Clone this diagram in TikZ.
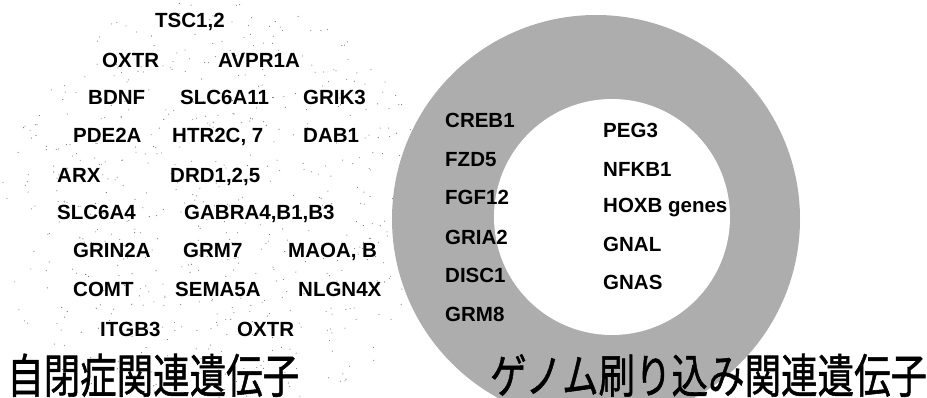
\documentclass[tikz,border=0pt]{standalone}
\usepackage{fontspec}
\setmainfont{Liberation Sans}
\newfontfamily\jpfont[FakeBold=1.2]{Noto Sans CJK JP}
\begin{document}
\begin{tikzpicture}[x=1pt,y=-1pt,
  gene/.style={anchor=base west,inner sep=0pt,font=\fontsize{20.5}{22}\selectfont\bfseries},
  title/.style={anchor=base west,inner sep=0pt,font=\fontsize{36.5}{40}\selectfont\jpfont}]
\useasboundingbox[fill=white] (0,0) rectangle (927,398);
% faint stippled disc (left)
\pgfmathsetseed{11}
\begin{scope}
\clip (0,0) rectangle (927,398);
\foreach \i in {1,...,650}{
  \pgfmathsetmacro\ang{360*rnd}
  \pgfmathsetmacro\rad{218*sqrt(rnd)}
  \fill[black!55] ({215+\rad*cos(\ang)},{215+\rad*sin(\ang)}) circle (0.55);
}
% ring (right)
\fill[black!32] (596,219) circle (204);
\fill[white] (612,217) circle (118);
\end{scope}
% autism genes
\node[gene] (tsc) at (155,28) {TSC1,2};
\node[gene] (oxtr) at (102,68) {OXTR};
\node[gene] (avpr) at (218,68) {AVPR1A};
\node[gene] (bdnf) at (88,105) {BDNF};
\node[gene] (slc11) at (180,105) {SLC6A11};
\node[gene] (grik3) at (303,105) {GRIK3};
\node[gene] (pde) at (73,143) {PDE2A};
\node[gene] (htr) at (172,143) {HTR2C, 7};
\node[gene] (dab) at (303,143) {DAB1};
\node[gene] (arx) at (57,183) {ARX};
\node[gene] (drd) at (170,183) {DRD1,2,5};
\node[gene] (slc4) at (57,220) {SLC6A4};
\node[gene] (gabra) at (184,220) {GABRA4,B1,B3};
\node[gene] (grin) at (73,258) {GRIN2A};
\node[gene] (grm7) at (183,258) {GRM7};
\node[gene] (maoa) at (288,258) {MAOA, B};
\node[gene] (comt) at (73,297) {COMT};
\node[gene] (sema) at (175,297) {SEMA5A};
\node[gene] (nlgn) at (298,297) {NLGN4X};
\node[gene] (itgb) at (100,336) {ITGB3};
\node[gene] (oxtr2) at (237,336) {OXTR};
% imprinting genes
\node[gene] (creb) at (445,128) {CREB1};
\node[gene] (fzd) at (445,167) {FZD5};
\node[gene] (fgf) at (445,205) {FGF12};
\node[gene] (gria) at (445,245) {GRIA2};
\node[gene] (disc) at (445,283) {DISC1};
\node[gene] (grm8) at (445,322) {GRM8};
\node[gene] (peg) at (603,138) {PEG3};
\node[gene] (nfkb) at (603,177) {NFKB1};
\node[gene] (hoxb) at (603,213) {HOXB genes};
\node[gene] (gnal) at (603,252) {GNAL};
\node[gene] (gnas) at (603,290) {GNAS};
% titles
\node[title] (t1) at (7,393) {\scalebox{1}[1.28]{自閉症関連遺伝子}};
\node[title] (t2) at (490,393) {\scalebox{1}[1.28]{ゲノム刷り込み関連遺伝子}};
\end{tikzpicture}
\end{document}
